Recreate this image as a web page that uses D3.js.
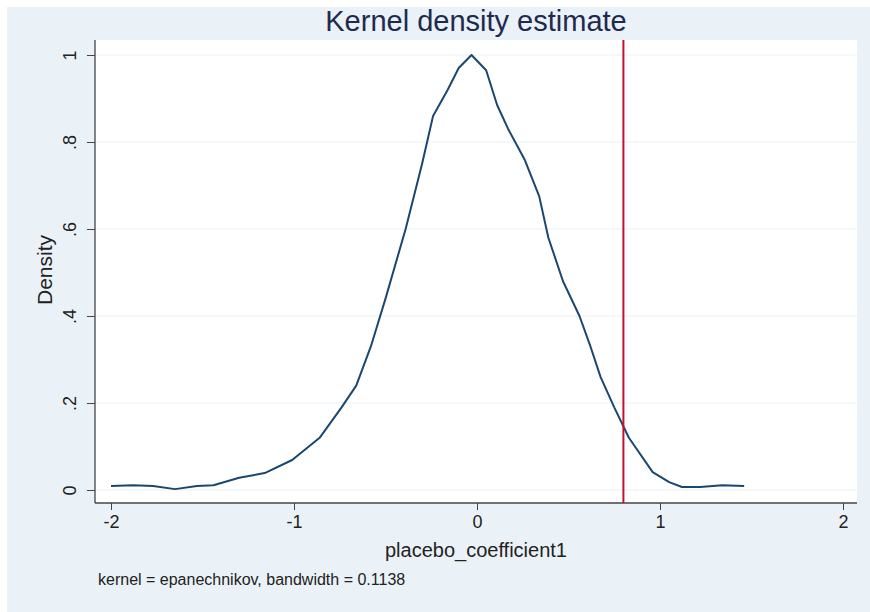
<!DOCTYPE html>
<html>
<head>
<meta charset="utf-8">
<script src="https://cdn.jsdelivr.net/npm/d3@7"></script>
<style>
  body { margin: 0; background: #fff; }
  text { font-family: "Liberation Sans", Arial, sans-serif; }
</style>
</head>
<body>
<svg id="chart"></svg>
<script>
// estimated points of the kernel density curve
const xVals = [-2.0, -1.88, -1.77, -1.65, -1.53, -1.44, -1.30, -1.16, -1.01, -0.86, -0.74, -0.66,
  -0.58, -0.50, -0.39, -0.30, -0.24, -0.16, -0.10, -0.03, 0.05, 0.11, 0.17, 0.26, 0.34, 0.39,
  0.47, 0.56, 0.62, 0.675, 0.75, 0.83, 0.96, 1.05, 1.12, 1.22, 1.34, 1.46];
const densityVals = [0.009, 0.011, 0.009, 0.002, 0.009, 0.011, 0.028, 0.039, 0.069, 0.12, 0.19, 0.24,
  0.33, 0.44, 0.60, 0.75, 0.86, 0.92, 0.97, 1.0, 0.965, 0.885, 0.83, 0.76, 0.675, 0.58,
  0.48, 0.40, 0.33, 0.26, 0.19, 0.12, 0.041, 0.018, 0.007, 0.007, 0.011, 0.009];
const xTicks = [-2, -1, 0, 1, 2];
const yTicks = [0, 0.2, 0.4, 0.6, 0.8, 1];
const refLine = 0.8;

const width = 870, height = 612;
const bg = '#eaf2f7';

const svg = d3.select('#chart')
    .attr('width', width)
    .attr('height', height);

// light blue graph region
svg.append('rect')
    .attr('x', 7).attr('y', 7)
    .attr('width', width - 7).attr('height', height - 7)
    .attr('fill', bg);

const plot = { left: 95, right: 857, top: 40, bottom: 503 };

svg.append('rect')
    .attr('x', plot.left).attr('y', plot.top)
    .attr('width', plot.right - plot.left)
    .attr('height', plot.bottom - plot.top)
    .attr('fill', '#fff');

const x = d3.scaleLinear().domain([-2, 2]).range([111, 843]);
const y = d3.scaleLinear().domain([0, 1]).range([490, 55]);

// gridlines
svg.append('g')
    .selectAll('line')
    .data(yTicks)
    .join('line')
      .attr('x1', plot.left).attr('x2', plot.right)
      .attr('y1', d => y(d)).attr('y2', d => y(d))
      .attr('stroke', bg)
      .attr('stroke-width', 1.2);

// stata style labels: 0 .2 .4 ... 1
const fmtY = d => d === 0 ? '0' : d === 1 ? '1' : d3.format('.1f')(d).replace(/^0/, '');
const fmtX = d => String(d);

// y axis
const yAxis = svg.append('g')
    .attr('transform', `translate(${plot.left},0)`)
    .call(d3.axisLeft(y).tickValues(yTicks).tickSize(8).tickFormat(fmtY));
yAxis.select('.domain')
    .attr('d', `M0,${plot.top}V${plot.bottom}`)
    .attr('stroke', '#444').attr('stroke-width', 1.3);
yAxis.selectAll('line').attr('stroke', '#444');
yAxis.selectAll('text')
    .attr('font-size', 18)
    .attr('fill', '#222')
    .attr('x', 0).attr('y', 0).attr('dy', 0)
    .attr('text-anchor', 'middle')
    .attr('transform', 'translate(-19,0) rotate(-90)');

// x axis
const xAxis = svg.append('g')
    .attr('transform', `translate(0,${plot.bottom})`)
    .call(d3.axisBottom(x).tickValues(xTicks).tickSize(7).tickPadding(5).tickFormat(fmtX));
xAxis.select('.domain')
    .attr('d', `M${plot.left},0H${plot.right}`)
    .attr('stroke', '#444').attr('stroke-width', 1.3);
xAxis.selectAll('line').attr('stroke', '#444');
xAxis.selectAll('text')
    .attr('font-size', 18)
    .attr('fill', '#222');

// density curve
const line = d3.line()
    .x((d, i) => x(xVals[i]))
    .y(d => y(d));

svg.append('path')
    .datum(densityVals)
    .attr('d', line)
    .attr('fill', 'none')
    .attr('stroke', '#1a476f')
    .attr('stroke-width', 2)
    .attr('stroke-linejoin', 'round');

// reference line
svg.append('line')
    .attr('x1', x(refLine)).attr('x2', x(refLine))
    .attr('y1', plot.top).attr('y2', plot.bottom)
    .attr('stroke', '#c8102e')
    .attr('stroke-width', 2);

// titles
svg.append('text')
    .attr('x', 476).attr('y', 31)
    .attr('text-anchor', 'middle')
    .attr('font-size', 29)
    .attr('fill', '#1e2a50')
    .text('Kernel density estimate');

svg.append('text')
    .attr('x', 476).attr('y', 557)
    .attr('text-anchor', 'middle')
    .attr('font-size', 20)
    .attr('fill', '#222')
    .text('placebo_coefficient1');

svg.append('text')
    .attr('transform', 'translate(52,270) rotate(-90)')
    .attr('text-anchor', 'middle')
    .attr('font-size', 21)
    .attr('fill', '#222')
    .text('Density');

svg.append('text')
    .attr('x', 98).attr('y', 585)
    .attr('font-size', 16)
    .attr('fill', '#222')
    .text('kernel = epanechnikov, bandwidth = 0.1138');
</script>
</body>
</html>
